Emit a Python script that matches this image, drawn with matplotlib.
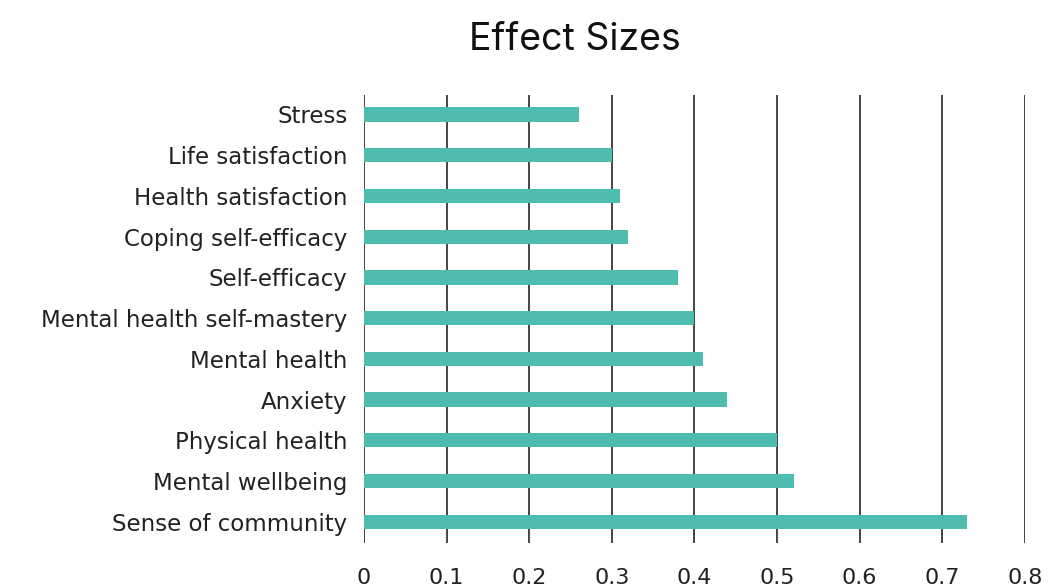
import matplotlib.pyplot as plt
import numpy as np

categories = ["Stress", "Life satisfaction", "Health satisfaction", "Coping self-efficacy",
              "Self-efficacy", "Mental health self-mastery", "Mental health", "Anxiety",
              "Physical health", "Mental wellbeing", "Sense of community"]
values = [0.26, 0.30, 0.31, 0.32, 0.38, 0.40, 0.41, 0.44, 0.50, 0.52, 0.73]
xticks = [0, 0.1, 0.2, 0.3, 0.4, 0.5, 0.6, 0.7, 0.8]
xtick_labels = ["0", "0.1", "0.2", "0.3", "0.4", "0.5", "0.6", "0.7", "0.8"]

plt.rcParams['font.family'] = ['DejaVu Sans']

fig = plt.figure(figsize=(10.49, 5.88), dpi=100)
ax = fig.add_axes([0.347, 0.0765, 0.977 - 0.347, 0.838 - 0.0765])

y = np.arange(len(categories))
ax.barh(y, values, height=0.35, color='#4ebcaf', zorder=2)

ax.set_xlim(0, 0.8)
ax.set_ylim(10.52, -0.47)
ax.set_yticks(y)
ax.set_yticklabels(categories, fontsize=16.5, color='#222222')
ax.set_xticks(xticks)
ax.set_xticklabels(xtick_labels, fontsize=16, color='#222222')
ax.tick_params(axis='x', length=0, pad=18)
ax.tick_params(axis='y', length=0, pad=12)

ax.grid(axis='x', color='#444444', linewidth=1.4, zorder=1)
ax.grid(axis='y', visible=False)
for s in ax.spines.values():
    s.set_visible(False)

fig.suptitle("Effect Sizes", x=0.548, y=0.962, fontsize=27, color='#111111', family='Inter')

fig.savefig("out.png", dpi=100)
